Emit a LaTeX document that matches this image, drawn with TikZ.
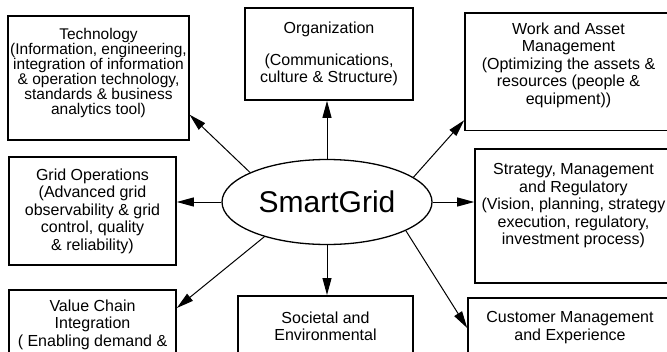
\documentclass[tikz,border=0pt]{standalone}
\usepackage{fontspec}
\setmainfont{Liberation Sans}
\usetikzlibrary{arrows.meta, calc, positioning, shapes.geometric}
\tikzset{%
    spoke/.style={%
        ->,
        >={Triangle[length=17pt, width=9pt]},
        line width=1pt,
    },
    boxed/.style={%
        rectangle,
        draw=black,
        line width=1.6pt,
        inner sep=2pt,
        align=center,
        font=\fontsize{16}{17.5}\selectfont,
    },
    topic/.style={%
        boxed,
        anchor=north,
        text depth=70pt,
    },
    hub/.style={%
        ellipse,
        draw=black,
        line width=1.3pt,
        minimum width=210pt,
        minimum height=85pt,
        font=\fontsize{30}{30}\selectfont,
    },
}

\begin{document}
\begin{tikzpicture}[x=1pt, y=-1pt]
	\useasboundingbox (0,0) rectangle (667,351);
	\clip (0,0) rectangle (667,351);

	\coordinate (centre) at (327,202);
	\node [hub] at (centre) (sg) {SmartGrid};

	% left column
	\node [topic, minimum width=180pt, inner ysep=12pt, text depth=14pt, font=\fontsize{15.5}{15}\selectfont] at (98.5,15) (tech) {Technology\\(Information, engineering,\\integration of information\\\& operation technology,\\standards \& business\\analytics tool)};
	\node [boxed, minimum width=167pt, minimum height=108pt] at (92.5,211) (grid) {Grid Operations\\(Advanced grid\\observability \& grid\\control, quality\\\& reliability)};
	\node [topic, minimum width=167pt, inner ysep=10pt] at (92.5,289) (value) {Value Chain\\Integration\\( Enabling demand \&};

	% middle column
	\node [boxed, minimum width=168pt, minimum height=92pt] at (329,54) (org) {Organization\\[14pt](Communications,\\culture \& Structure)};
	\node [topic, minimum width=175pt, inner ysep=16pt] at (325.5,295) (soc) {Societal and\\Environmental};

	% right column, running off the edge
	\node [topic, minimum width=207pt, inner ysep=10pt, text depth=16pt] at (568.5,12) (work) {Work and Asset\\Management\\(Optimizing the assets \&\\resources (people \&\\equipment))};
	\node [topic, minimum width=197pt, inner ysep=15pt, text depth=23pt] at (573.5,148) (strat) {Strategy, Management\\and Regulatory\\(Vision, planning, strategy\\execution, regulatory,\\investment process)};
	\node [topic, minimum width=204pt, inner ysep=14pt] at (570,297) (cust) {Customer Management\\and Experience};

	\draw [spoke] (sg.159) -- (tech.-22);
	\draw [spoke] (sg.north) -- (sg.north |- org.south);
	\draw [spoke] (sg.16) -- (work.205);
	\draw [spoke] (sg.west) -- (sg.west -| grid.east);
	\draw [spoke] (sg.east) -- (sg.east -| strat.west);
	\draw [spoke] (sg.209) -- ($(value.north east)+(0,19)$);
	\draw [spoke] (sg.south) -- (sg.south |- soc.north);
	\draw [spoke] (sg.-20) -- ($(cust.north west)+(0,31)$);
\end{tikzpicture}
\end{document}
